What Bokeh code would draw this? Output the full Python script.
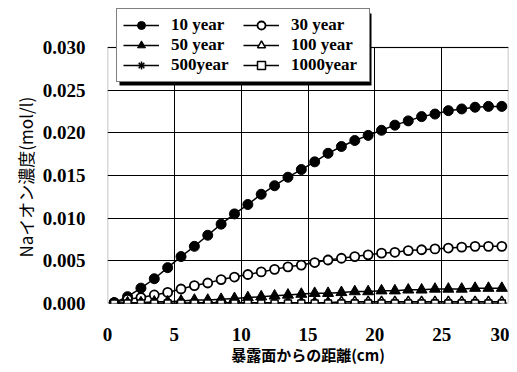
from bokeh.plotting import figure
from bokeh.models import Legend, LegendItem, FixedTicker, NumeralTickFormatter, BoxAnnotation, Title
from bokeh.embed import file_html
from bokeh.resources import INLINE

depth_cm = [0.5, 1.5, 2.5, 3.5, 4.5, 5.5, 6.5, 7.5, 8.5, 9.5,
            10.5, 11.5, 12.5, 13.5, 14.5, 15.5, 16.5, 17.5, 18.5, 19.5,
            20.5, 21.5, 22.5, 23.5, 24.5, 25.5, 26.5, 27.5, 28.5, 29.5]

y10 = [0.0001, 0.0008, 0.0018, 0.0029, 0.0042, 0.0055, 0.0067, 0.0080, 0.0093, 0.0105,
       0.0116, 0.0128, 0.0138, 0.0148, 0.0157, 0.0166, 0.0176, 0.0184, 0.0191, 0.0197,
       0.0203, 0.0209, 0.0214, 0.0219, 0.0222, 0.0226, 0.0228, 0.0230, 0.0231, 0.0231]
y30 = [0.0001, 0.0005, 0.0007, 0.0010, 0.0013, 0.0017, 0.0021, 0.0024, 0.0028, 0.0031,
       0.0034, 0.0037, 0.0040, 0.0043, 0.0045, 0.0048, 0.0051, 0.0053, 0.0055, 0.0057,
       0.0059, 0.0060, 0.0062, 0.0063, 0.0064, 0.0065, 0.0066, 0.0067, 0.0067, 0.0067]
y50 = [0.0000, 0.0001, 0.0001, 0.0002, 0.0002, 0.0003, 0.0004, 0.0004, 0.0005, 0.0006,
       0.0007, 0.0008, 0.0009, 0.0010, 0.0011, 0.0012, 0.0012, 0.0013, 0.0014, 0.0014,
       0.0015, 0.0015, 0.0016, 0.0016, 0.0017, 0.0017, 0.0017, 0.0018, 0.0018, 0.0018]
y100 = [0.0000, 0.0000, 0.0000, 0.0000, 0.0000, 0.0000, 0.0001, 0.0001, 0.0001, 0.0001,
        0.0001, 0.0001, 0.0001, 0.0001, 0.0001, 0.0001, 0.0001, 0.0002, 0.0002, 0.0002,
        0.0002, 0.0002, 0.0002, 0.0002, 0.0002, 0.0002, 0.0002, 0.0002, 0.0002, 0.0002]
y500 = [0.0000] * 30
y1000 = [0.0000] * 30

x_ticks = [0, 5, 10, 15, 20, 25, 30]
y_ticks = [0.000, 0.005, 0.010, 0.015, 0.020, 0.025, 0.030]

SERIF = "Liberation Serif"
CJK = "Noto Sans CJK JP"

# frame is taller than the 0..0.030 box so the legend can sit above the box
BOX_TOP, BOX_BOTTOM = 47, 303
y_end = y_ticks[-1] * BOX_BOTTOM / (BOX_BOTTOM - BOX_TOP)

p = figure(frame_width=401, frame_height=BOX_BOTTOM,
           x_range=(x_ticks[0], x_ticks[-1]), y_range=(y_ticks[0], y_end),
           output_backend="svg", toolbar_location=None,
           min_border_left=107, min_border_right=1, min_border_top=0,
           min_border_bottom=40)
p.outline_line_color = None

p.xgrid.grid_line_color = "black"
p.ygrid.grid_line_color = "black"
p.xgrid.grid_line_width = 1
p.ygrid.grid_line_width = 1
p.xgrid.cross_bounds = (y_ticks[0], y_ticks[-1])
p.xaxis.ticker = FixedTicker(ticks=x_ticks)
p.yaxis.ticker = FixedTicker(ticks=y_ticks)
p.yaxis.formatter = NumeralTickFormatter(format="0.000")

for ax in (p.xaxis[0], p.yaxis[0]):
    ax.axis_line_color = None
    ax.major_tick_line_color = None
    ax.minor_tick_line_color = None
    ax.major_tick_out = 0
    ax.major_tick_in = 0
    ax.major_label_text_font = SERIF
    ax.major_label_text_font_style = "bold"
    ax.major_label_text_font_size = "19px"
    ax.major_label_text_color = "black"
    ax.axis_label_text_color = "black"
    ax.axis_label_text_font = CJK

p.yaxis.major_label_standoff = 22
p.xaxis.major_label_standoff = 24
p.xaxis.axis_label = "暴露面からの距離(cm)"
p.xaxis.axis_label_text_font_size = "15px"
p.xaxis.axis_label_text_font_style = "bold"
p.xaxis.axis_label_standoff = 0

ytitle = Title(text="Naイオン濃度(mol/l)", align="left", offset=46,
               text_font=CJK, text_font_size="17px", text_font_style="normal",
               text_color="black", standoff=4)
p.add_layout(ytitle, "left")

# the plot box
frame_box = BoxAnnotation(left=x_ticks[0], right=x_ticks[-1], bottom=y_ticks[0], top=y_ticks[-1],
                          fill_alpha=0, line_color="black", line_width=1.5)
p.add_layout(frame_box)

lw = 1.5
l10 = p.line(depth_cm, y10, line_color="black", line_width=lw)
m10 = p.scatter(depth_cm, y10, marker="circle", size=10, fill_color="black", line_color="black")
l30 = p.line(depth_cm, y30, line_color="black", line_width=lw)
m30 = p.scatter(depth_cm, y30, marker="circle", size=9, fill_color="white", line_color="black", line_width=1.8)
l50 = p.line(depth_cm, y50, line_color="black", line_width=lw)
m50 = p.scatter(depth_cm, y50, marker="triangle", size=11, fill_color="black", line_color="black")
l100 = p.line(depth_cm, y100, line_color="black", line_width=lw)
m100 = p.scatter(depth_cm, y100, marker="triangle", size=10, fill_color="white", line_color="black", line_width=1.5)
l500 = p.line(depth_cm, y500, line_color="black", line_width=lw)
m500 = p.scatter(depth_cm, y500, marker="asterisk", size=9, line_color="black", line_width=1.5)
l1000 = p.line(depth_cm, y1000, line_color="black", line_width=lw)
m1000 = p.scatter(depth_cm, y1000, marker="square", size=7, fill_color="white", line_color="black", line_width=1.5)

# legend geometry (screen pixels)
PAD, GW, STAND, LW_, LH = 6, 36, 12, 72, 20
LEG_X, LEG_BOTTOM = 9, 221
leg_w = 2 * PAD + 2 * (GW + STAND + LW_)
leg_h = 2 * PAD + 3 * LH
leg_left = 107 + LEG_X
leg_top = BOX_BOTTOM - LEG_BOTTOM - leg_h

shadow = BoxAnnotation(left=leg_left + 3, right=leg_left + leg_w + 3,
                       top=leg_top + 3, bottom=leg_top + leg_h + 3,
                       left_units="canvas", right_units="canvas",
                       top_units="canvas", bottom_units="canvas",
                       fill_color="black", fill_alpha=1, line_color=None)
p.add_layout(shadow)

items = [
    LegendItem(label="10 year", renderers=[l10, m10]),
    LegendItem(label="50 year", renderers=[l50, m50]),
    LegendItem(label="500year", renderers=[l500, m500]),
    LegendItem(label="30 year", renderers=[l30, m30]),
    LegendItem(label="100 year", renderers=[l100, m100]),
    LegendItem(label="1000year", renderers=[l1000, m1000]),
]
legend = Legend(items=items, location=(LEG_X, LEG_BOTTOM), orientation="vertical", ncols=2,
                label_text_font=SERIF, label_text_font_style="bold", label_text_font_size="17px",
                label_text_color="black",
                glyph_width=GW, glyph_height=LH, label_height=LH, label_width=LW_,
                label_standoff=STAND,
                spacing=0, padding=PAD, margin=0,
                border_line_color="black", border_line_width=1.5,
                background_fill_color="white", background_fill_alpha=1)
p.add_layout(legend, "center")

open("out.html", "w").write(file_html(p, INLINE))
